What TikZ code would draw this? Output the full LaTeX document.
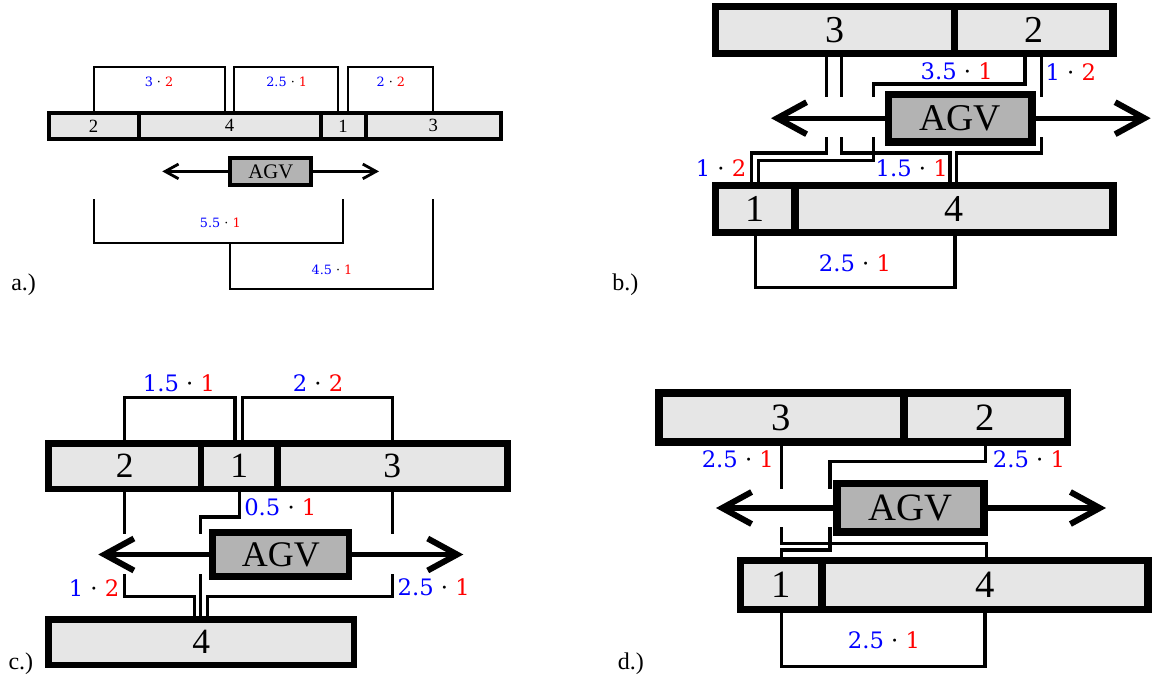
\documentclass[tikz,border=0pt]{standalone}
\usepackage{fontspec}
\setmainfont{Liberation Serif}
\newfontfamily\costfont{DejaVu Serif}
\usetikzlibrary{arrows.meta}
\definecolor{stgray}{HTML}{E6E6E6}
\definecolor{agvgray}{HTML}{B3B3B3}
\definecolor{cblue}{HTML}{0000FF}
\definecolor{cred}{HTML}{FF0000}
\newcommand{\cst}[2]{\textcolor{cblue}{#1} · \textcolor{cred}{#2}}
\tikzset{
  stbox/.style={draw=black, fill=stgray, inner sep=0pt, outer sep=0pt, line width=#1},
  agvbox/.style={draw=black, fill=agvgray, inner sep=0pt, outer sep=0pt, line width=#1},
  conn/.style={draw=black, line width=#1},
  costlbl/.style={inner sep=0pt, font=\costfont\fontsize{#1}{#1}\selectfont},
  sublbl/.style={inner sep=0pt, anchor=base west, font=\fontsize{18}{20}\selectfont},
  stA/.style={stbox=3pt, minimum height=19.3pt, font=\fontsize{14}{16}\selectfont},
  stB/.style={stbox=5.6pt, minimum height=35.3pt, font=\fontsize{28.5}{30}\selectfont},
  stC/.style={stbox=5pt, minimum height=34.2pt, font=\fontsize{26.6}{28}\selectfont},
  stD/.style={stbox=5.6pt, minimum height=36.7pt, font=\fontsize{29}{31}\selectfont},
  arrA/.style={line width=2.5pt, -{Straight Barb[sharp,length=10pt,width=11pt,line width=2.1pt]}},
  arrB/.style={line width=4pt, -{Straight Barb[sharp,length=22pt,width=24pt,line width=4.5pt]}},
}
\begin{document}
\begin{tikzpicture}[x=0.75pt,y=-0.75pt]
\useasboundingbox (0,0) rectangle (1153,679);

% ================= panel a =================
\node[stA, minimum width=67.35pt] (a2) at (93.6,125.85) {2};
\node[stA, minimum width=136.5pt] (a4) at (229.5,125.85) {4};
\node[stA, minimum width=33.75pt] (a1) at (343,125.85) {1};
\node[stA, minimum width=101.85pt] (a3) at (433.4,125.85) {3};
\coordinate (aL) at (162.3,171.4);
\coordinate (aR) at (379,171.4);
\draw[arrA] (270.8,171.4) -- (aL);
\draw[arrA] (270.8,171.4) -- (aR);
\node[agvbox=3pt, minimum width=60.75pt, minimum height=20pt, font=\fontsize{15.5}{17}\selectfont] (agva) at (270.8,171.35) {AGV};
\draw[conn=1.5pt] (a2.north) |- (225,67.3) -- (225,0 |- a4.north);
\draw[conn=1.5pt] (234.3,0 |- a4.north) |- (338.3,67.3) -- (338.3,0 |- a1.north);
\draw[conn=1.5pt] (347.7,0 |- a1.north) |- (433.4,67.3) -- (a3.north);
\draw[conn=1.5pt] (a2.south |- 0,199) |- (a1.south |- 0,243.3) -- (a1.south |- 0,199);
\draw[conn=1.5pt] (a4.south |- 0,243.3) |- (a3.south |- 0,289) -- (a3.south |- 0,199);
\node[costlbl=9.6] (la1) at (159,81.7) {\cst{3}{2}};
\node[costlbl=9.6] (la2) at (286.7,81.7) {\cst{2.5}{1}};
\node[costlbl=9.6] (la3) at (390.8,81.7) {\cst{2}{2}};
\node[costlbl=9.6] (la4) at (220.3,222.7) {\cst{5.5}{1}};
\node[costlbl=9.6] (la5) at (332,270) {\cst{4.5}{1}};
\node[sublbl] (sa) at (11,290.7) {a.)};

% ================= panel b =================
\node[stB, minimum width=179.1pt] (b3) at (834.9,30) {3};
\node[stB, minimum width=119pt] (b2) at (1033.6,30) {2};
\node[stB, minimum width=59.7pt] (b1) at (755.2,208.85) {1};
\node[stB, minimum width=238.5pt] (b4) at (954,208.85) {4};
\coordinate (bL) at (771,118.2);
\coordinate (bR) at (1150.7,118.2);
\draw[arrB] (960,118.2) -- (bL);
\draw[arrB] (960,118.2) -- (bR);
\node[agvbox=5.6pt, minimum width=107.4pt, minimum height=35.6pt, font=\fontsize{28.3}{30}\selectfont] (agvb) at (960.35,118.2) {AGV};
% 3 -> 1
\draw[conn=2.5pt] (826.7,0 |- b3.south) -- (826.7,97.3);
\draw[conn=2.5pt] (826.7,137.3) |- (751.7,153) -- (751.7,0 |- b1.north);
% 3 -> 4
\draw[conn=2.5pt] (841.7,0 |- b3.south) -- (841.7,97.3);
\draw[conn=2.5pt] (841.7,137.3) |- (950,153) -- (950,0 |- b4.north);
% 2 -> 1
\draw[conn=2.5pt] (1025,0 |- b2.south) |- (873.3,84) -- (873.3,97.3);
\draw[conn=2.5pt] (873.3,137.3) |- (758.3,160.7) -- (758.3,0 |- b1.north);
% 2 -> 4
\draw[conn=2.5pt] (1041.7,0 |- b2.south) -- (1041.7,97.3);
\draw[conn=2.5pt] (1041.7,137.3) |- (956.7,153) -- (956.7,0 |- b4.north);
% 1 -> 4 below
\draw[conn=2.5pt] (b1.south) |- (955,287.3) -- (955,0 |- b4.south);
\node[costlbl=17] (lb1) at (956.7,71.7) {\cst{3.5}{1}};
\node[costlbl=17] (lb2) at (1070.8,71.7) {\cst{1}{2}};
\node[costlbl=17] (lb3) at (721,168) {\cst{1}{2}};
\node[costlbl=17] (lb4) at (911.7,168) {\cst{1.5}{1}};
\node[costlbl=17] (lb5) at (855,263) {\cst{2.5}{1}};
\node[sublbl] (sb) at (612,290.7) {b.)};

% ================= panel c =================
\node[stC, minimum width=114.5pt] (c2) at (124.7,466.15) {2};
\node[stC, minimum width=57.2pt] (c1) at (239.15,466.15) {1};
\node[stC, minimum width=172.5pt] (c3) at (392.3,466.15) {3};
\node[stC, minimum width=229.2pt] (c4) at (201.15,642.15) {4};
\coordinate (cL) at (98.3,554.5);
\coordinate (cR) at (463.3,554.5);
\draw[arrB] (280.8,554.5) -- (cL);
\draw[arrB] (280.8,554.5) -- (cR);
\node[agvbox=5pt, minimum width=102.2pt, minimum height=33.2pt, font=\fontsize{27}{29}\selectfont] (agvc) at (280.8,554.5) {AGV};
\draw[conn=2.5pt] (c2.north) |- (235,397.3) -- (235,0 |- c1.north);
\draw[conn=2.5pt] (242.7,0 |- c1.north) |- (392.3,397.3) -- (c3.north);
% 2 -> 4
\draw[conn=2.5pt] (c2.south) -- (c2.south |- 0,534);
\draw[conn=2.5pt] (c2.south |- 0,574) |- (194.3,596.7) -- (194.3,0 |- c4.north);
% 3 -> 4
\draw[conn=2.5pt] (c3.south) -- (c3.south |- 0,534);
\draw[conn=2.5pt] (c3.south |- 0,574) |- (207.7,596.7) -- (207.7,0 |- c4.north);
% 1 -> 4
\draw[conn=2.5pt] (239.6,0 |- c1.south) |- (200.7,517) -- (200.7,534);
\draw[conn=2.5pt] (200.7,574) -- (200.7,0 |- c4.north);
\node[costlbl=17] (lc1) at (179,383.3) {\cst{1.5}{1}};
\node[costlbl=17] (lc2) at (318,383.3) {\cst{2}{2}};
\node[costlbl=17] (lc3) at (280.3,507.7) {\cst{0.5}{1}};
\node[costlbl=17] (lc4) at (94,587.7) {\cst{1}{2}};
\node[costlbl=17] (lc5) at (433.7,587.7) {\cst{2.5}{1}};
\node[sublbl] (sc) at (8.3,669) {c.)};

% ================= panel d =================
\node[stD, minimum width=183.8pt] (d3) at (781.3,417.5) {3};
\node[stD, minimum width=122.6pt] (d2) at (985.5,417.5) {2};
\node[stD, minimum width=61.2pt] (d1) at (781.2,585.15) {1};
\node[stD, minimum width=244.3pt] (d4) at (984.9,585.15) {4};
\coordinate (dL) at (716,508);
\coordinate (dR) at (1106,508);
\draw[arrB] (910.5,508) -- (dL);
\draw[arrB] (910.5,508) -- (dR);
\node[agvbox=5.6pt, minimum width=110.2pt, minimum height=36.15pt, font=\fontsize{29}{31}\selectfont] (agvd) at (910.5,507.85) {AGV};
% 3 -> 4
\draw[conn=2.5pt] (d3.south) -- (d3.south |- 0,489.3);
\draw[conn=2.5pt] (d3.south |- 0,527.3) |- (986.7,543.3) -- (986.7,0 |- d4.north);
% 2 -> 1
\draw[conn=2.5pt] (d2.south) |- (830,461.7) -- (830,489.3);
\draw[conn=2.5pt] (830,527.3) |- (781.3,550) -- (781.3,0 |- d1.north);
% 1 -> 4 below
\draw[conn=2.5pt] (d1.south) |- (985,666.7) -- (985,0 |- d4.south);
\node[costlbl=17] (ld1) at (737.8,459) {\cst{2.5}{1}};
\node[costlbl=17] (ld2) at (1029,459) {\cst{2.5}{1}};
\node[costlbl=17] (ld3) at (884,640) {\cst{2.5}{1}};
\node[sublbl] (sd) at (617.6,669) {d.)};
\end{tikzpicture}
\end{document}
